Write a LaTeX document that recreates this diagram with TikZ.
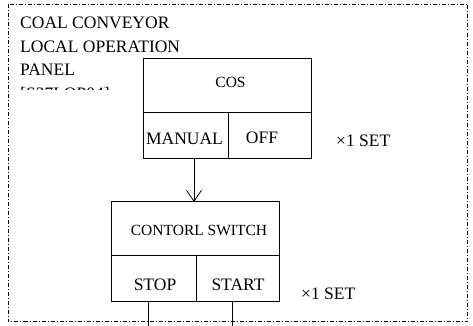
\documentclass[tikz,border=0pt]{standalone}
\usepackage{fontspec}
\setmainfont{Liberation Serif}
\usetikzlibrary{arrows.meta}
\begin{document}
\begin{tikzpicture}[x=1pt,y=-1pt,
  cell/.style={draw, line width=0.8pt, inner sep=0pt, anchor=north west},
  big/.style={font=\fontsize{17.5}{20}\selectfont, inner sep=0pt, anchor=base},
  bigleft/.style={font=\fontsize{17.5}{20}\selectfont, inner sep=0pt, anchor=base west},
  small/.style={font=\fontsize{15.5}{18}\selectfont, inner sep=0pt, anchor=base},
  frame/.style={line width=0.8pt, dash pattern=on 4pt off 2pt on 1pt off 2pt},
  wire/.style={line width=0.8pt}]
\useasboundingbox (0,0) rectangle (473,326);
% frame
\draw[frame] (8,4) rectangle (467.5,321.5);
% title text
\node[bigleft] (t1) at (20,29) {COAL CONVEYOR};
\node[bigleft] (t2) at (20,53) {LOCAL OPERATION};
\node[bigleft] (t3) at (20,76) {PANEL};
\begin{scope}
  \clip (0,0) rectangle (140,89.5);
  \node[bigleft] (t4) at (20,99.5) {[S27LOP04]};
\end{scope}
% COS box
\node[cell, minimum width=168pt, minimum height=54pt] (cos) at (143,58) {};
\node[cell, minimum width=85pt, minimum height=46pt] (manual) at (143,112) {};
\node[cell, minimum width=83pt, minimum height=46pt] (off) at (228,112) {};
\node[small] (costext) at (230.5,88) {COS};
\node[big] (manualtext) at (184.5,144) {MANUAL};
\node[big] (offtext) at (262,143.5) {OFF};
\node[bigleft] (set1) at (336,146) {×1 SET};
% control switch box
\node[cell, minimum width=168pt, minimum height=54pt] (ctrl) at (111,201) {};
\node[cell, minimum width=85pt, minimum height=46pt] (stop) at (111,255) {};
\node[cell, minimum width=83pt, minimum height=46pt] (start) at (196,255) {};
\node[small] (ctrltext) at (199,235) {CONTORL SWITCH};
\node[big] (stoptext) at (155,290) {STOP};
\node[big] (starttext) at (238,290) {START};
\node[bigleft] (set2) at (301,299) {×1 SET};
% connectors
\draw[wire, -{Straight Barb[length=11pt,width=15pt,line width=0.8pt]}]
  ([xshift=51pt]manual.south west) -- ([xshift=83pt,yshift=-1pt]ctrl.north west);
\coordinate (e1) at (148,326);
\coordinate (e2) at (232,326);
\draw[wire] ([xshift=37pt]stop.south west) -- (e1);
\draw[wire] ([xshift=36pt]start.south west) -- (e2);
\end{tikzpicture}
\end{document}
